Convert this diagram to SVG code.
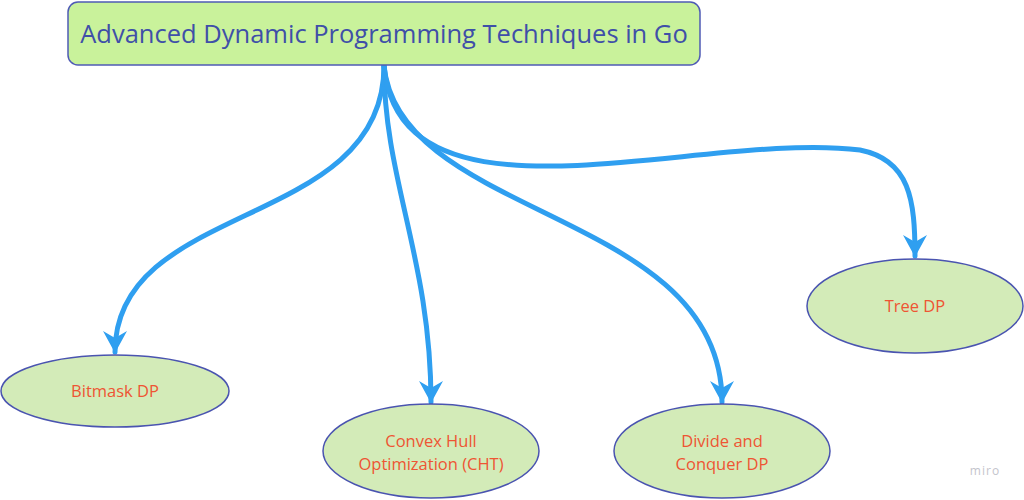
<svg xmlns="http://www.w3.org/2000/svg" width="1024" height="500" viewBox="0 0 1024 500">
<defs>
<style>
.edge{fill:none;stroke:#2f9ff0;stroke-width:5;stroke-linecap:round}
.leaf ellipse{fill:#d3ebb8;stroke:#4a54b0;stroke-width:1.5}
.leaf text{fill:#ee5533;font-family:"Open Sans","Noto Sans",sans-serif;font-size:16.5px;text-anchor:middle}
</style>
<marker id="ah" viewBox="0 0 24 24" refX="22" refY="12" markerWidth="24" markerHeight="24" markerUnits="userSpaceOnUse" orient="auto">
<path d="M1,0 L23,12 L1,24 L8,12 Z" fill="#2f9ff0"/>
</marker>
</defs>
<rect width="1024" height="500" fill="#ffffff"/>
<g id="connectors">
<path class="edge" d="M384,66 C384,230 115,200 115,352" marker-end="url(#ah)"/>
<path class="edge" d="M384,66 C384,180 431,260 431,402" marker-end="url(#ah)"/>
<path class="edge" d="M384,66 C400,220 722,210 722,402" marker-end="url(#ah)"/>
<path class="edge" d="M384,66 C400,240 700,130 860,150 C910,160 915,200 915,256" marker-end="url(#ah)"/>
</g>
<g id="root">
<rect x="68" y="2" width="632" height="63" rx="10" fill="#c9f29b" stroke="#4f5bb5" stroke-width="1.5"/>
<text x="384" y="43" fill="#3f4fa8" font-family="'Open Sans','Noto Sans',sans-serif" font-size="25.5" text-anchor="middle">Advanced Dynamic Programming Techniques in Go</text>
</g>
<g id="bitmask" class="leaf">
<ellipse cx="115" cy="391" rx="114" ry="36"/>
<text x="115" y="397">Bitmask DP</text>
</g>
<g id="cht" class="leaf">
<ellipse cx="431" cy="451" rx="108" ry="47"/>
<text x="431" y="447">Convex Hull</text>
<text x="431" y="470">Optimization (CHT)</text>
</g>
<g id="dnc" class="leaf">
<ellipse cx="722" cy="451" rx="108" ry="47"/>
<text x="722" y="447">Divide and</text>
<text x="722" y="470">Conquer DP</text>
</g>
<g id="tree" class="leaf">
<ellipse cx="915" cy="306" rx="108" ry="47"/>
<text x="915" y="312">Tree DP</text>
</g>
<text x="985" y="475" fill="#c4c4cc" font-family="'Open Sans',sans-serif" font-size="12" text-anchor="middle" letter-spacing="1">miro</text>
</svg>
